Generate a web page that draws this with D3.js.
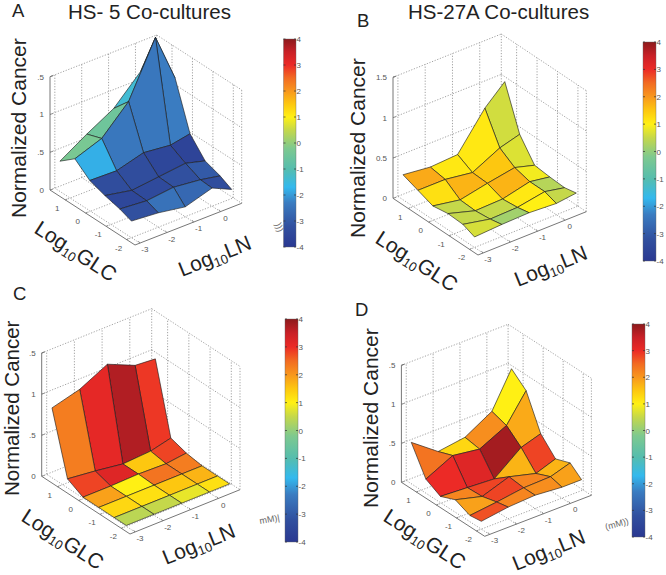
<!DOCTYPE html>
<html>
<head>
<meta charset="utf-8">
<script src="https://cdn.jsdelivr.net/npm/d3@7"></script>
<style>
html,body{margin:0;padding:0;background:#fff;}
svg{display:block;}
text{font-family:"Liberation Sans",Arial,sans-serif;}
</style>
</head>
<body>
<svg id="chart" width="666" height="575"></svg>
<script>
// ---- data ----
const lnValues  = [-3, -2, -1, 0, 0.73];
const glcValues = [-2, -1.43, -0.70, 0.04, 0.77, 1.50];
const lnTicks = [-3, -2, -1, 0];
const glcTicks = [-2, -1, 0, 1];
const zTicks = [0, 0.5, 1, 1.5];
const colorTicks = [-4, -3, -2, -1, 0, 1, 2, 3, 4];

// heights: row = GLC index, column = LN index
const heightA = [
 [.22,.19,.13,.24,.12],
 [.28,.25,.29,.25,.20],
 [.33,.26,.30,.34,.27],
 [.40,.39,.49,.45,.50],
 [.56,.69,1.04,1.75,1.11],
 [.40,.62,.82,1.17,.87]];
const heightB = [
 [.13,.15,.16,.14,.17],
 [.19,.12,.13,.19,.14],
 [.20,.10,.11,.19,.15],
 [.17,.11,.18,.24,.17],
 [.24,.24,.19,.36,.43],
 [.31,.27,.29,.73,.96]];
const heightC = [
 [.01,.01,.01,.01,.01],
 [.01,.01,.01,.01,.01],
 [.01,.01,.01,.01,.01],
 [.01,.01,.02,.01,.04],
 [.11,.07,.02,.04,.10],
 [.85,.94,1.11,.96,.94]];
const heightD = [
 [.10,.15,.17,.14,.14],
 [.08,.12,.17,.18,.26],
 [.16,.07,.19,.10,.19],
 [.08,.06,.04,.31,.39],
 [.18,.35,.30,.47,.82],
 [.53,.28,.33,.53,.98]];

// cell colour values (colour-bar units): row = GLC cell, column = LN cell
const shadeA = [
 [-3.2,-2.5,-2.7,-3.3],
 [-3.5,-3.4,-3.2,-3.0],
 [-3.3,-3.3,-3.5,-3.6],
 [-1.8,-2.4,-2.4,-2.3],
 [-0.3,-0.5,-1.4,-2.2]];
const shadeB = [
 [.65,.15,1.0,.5],
 [.5,.5,1.1,.35],
 [.5,1.1,1.7,.9],
 [1.2,1.7,1.5,.7],
 [1.8,1.1,1.1,.6]];
const shadeC = [
 [.4,.5,.8,1.2],
 [1.3,1.2,1.5,1.7],
 [1.9,1.0,2.4,2.3],
 [2.8,3.2,1.5,2.8],
 [2.3,3.1,3.7,2.9]];
const shadeD = [
 [2.7,2.2,2.1,1.9],
 [1.9,2.8,2.2,1.7],
 [2.2,2.8,1.7,2.8],
 [3.0,3.2,3.8,1.8],
 [2.4,1.3,2.1,1.0]];

const colorStops = [-4,-3.2,-2.3,-1.7,-1,-.2,.5,1,1.5,2,2.5,3,3.5,4];
const colorRamp = ["#2a3891","#31509f","#3a7cc1","#33b9ee","#55bdae","#7ec98f","#c5d84a","#fff014","#fdc710","#f8971d","#f26b22","#ec2a26","#c92027","#8c1a1c"];

const zLabelsA = [".5","1",".5","0"];
const zLabelsB = ["1.5","1","0.5","0"];
const zLabelsC = [".5","1",".5","0"];
const zLabelsD = [".5","1",".5","0"];

// ---- layout of the four panels ----
const panels = [
 {letter:"A", lx:12, ly:17, title:"HS- 5 Co-cultures", tx:68, ty:18.5, h:heightA, s:shadeA, zl:zLabelsA,
  o:[135,245], u:[106.7,-41.7], v:[-85,-55], zh:113.3,
  bar:[283.5,39,12.5,208], glc:[33,232], ln:[182,277], yl:[26,218], yf:21, note:")))", nx:275, ny:224, nr:70},
 {letter:"B", lx:357, ly:27, title:"HS-27A Co-cultures", tx:408, ty:18.5, h:heightB, s:shadeB, zl:zLabelsB,
  o:[478,255], u:[108.3,-43.3], v:[-85,-56.7], zh:121,
  bar:[643,42,13,219], glc:[374,242], ln:[518,287], yl:[365,238], yf:21, note:"", nx:0, ny:0, nr:0},
 {letter:"C", lx:13, ly:300, title:"", tx:0, ty:0, h:heightC, s:shadeC, zl:zLabelsC,
  o:[130,534], u:[110,-44.3], v:[-88.3,-57.7], zh:123.3,
  bar:[285,319,13,223], glc:[20,520], ln:[166,565], yl:[18.5,496], yf:20.5, note:"mM)|", nx:260, ny:524, nr:-10},
 {letter:"D", lx:355, ly:316, title:"", tx:0, ty:0, h:heightD, s:shadeD, zl:zLabelsD,
  o:[484.7,536.3], u:[106.7,-41], v:[-83.3,-54], zh:117,
  bar:[632,324,13,213], glc:[382,520], ln:[516,571], yl:[378,508], yf:21, note:"(mM))", nx:606, ny:530, nr:-15}
];

const svg = d3.select("#chart");
const color = d3.scaleLinear().domain(colorStops).range(colorRamp).clamp(true);
const xScale = d3.scaleLinear().domain([-3.18, 0.79]).range([0, 1]);
const yScale = d3.scaleLinear().domain([-2.41, 1.75]).range([0, 1]);
const zNorm  = d3.scaleLinear().domain([0, 1.5]).range([0, 1]);
const gridC = "#8a8a8a", axisC = "#777", labelC = "#555";

const defs = svg.append("defs");
const grad = defs.append("linearGradient").attr("id","cb").attr("x1",0).attr("x2",0).attr("y1",1).attr("y2",0);
grad.selectAll("stop").data(colorStops).join("stop")
  .attr("offset", d => (d + 4) / 8).attr("stop-color", d => color(d));

panels.forEach(p => {
  const g = svg.append("g");
  const proj = (ln, glc, z) => {
    const a = xScale(ln), b = yScale(glc), c = zNorm(z);
    return [p.o[0] + p.u[0]*a + p.v[0]*b, p.o[1] + p.u[1]*a + p.v[1]*b - p.zh*c];
  };
  const lnMax = xScale.domain()[1], lnMin = xScale.domain()[0];
  const glcMax = yScale.domain()[1], glcMin = yScale.domain()[0];
  const zMax = 1.5;
  const seg = (a, b, col, dash, w) => g.append("line")
    .attr("x1",a[0]).attr("y1",a[1]).attr("x2",b[0]).attr("y2",b[1])
    .attr("stroke",col).attr("stroke-width",w||0.8).attr("stroke-dasharray",dash||null);
  const dot = "1.2,1.6";

  // dotted grid on the floor and the two back walls
  lnTicks.forEach(t => {
    seg(proj(t,glcMin,0), proj(t,glcMax,0), gridC, dot);
    seg(proj(t,glcMax,0), proj(t,glcMax,zMax), gridC, dot);
  });
  glcTicks.forEach(t => {
    seg(proj(lnMin,t,0), proj(lnMax,t,0), gridC, dot);
    seg(proj(lnMax,t,0), proj(lnMax,t,zMax), gridC, dot);
  });
  zTicks.forEach(t => {
    seg(proj(lnMin,glcMax,t), proj(lnMax,glcMax,t), gridC, dot);
    seg(proj(lnMax,glcMax,t), proj(lnMax,glcMin,t), gridC, dot);
  });
  seg(proj(lnMax,glcMax,0), proj(lnMax,glcMax,zMax), gridC, dot);
  seg(proj(lnMax,glcMin,0), proj(lnMax,glcMin,zMax), gridC, dot);

  // solid axes
  seg(proj(lnMin,glcMin,0), proj(lnMin,glcMax,0), axisC, null, 1);
  seg(proj(lnMin,glcMin,0), proj(lnMax,glcMin,0), axisC, null, 1);
  seg(proj(lnMin,glcMax,0), proj(lnMin,glcMax,zMax), axisC, null, 1);
  seg(proj(lnMin,glcMax,zMax), proj(lnMin + .1,glcMax,zMax), axisC, null, 1);

  // ticks and tick labels
  const tickText = (pt, s, anchor) => g.append("text")
    .attr("x",pt[0]).attr("y",pt[1]).attr("font-size",8).attr("fill",labelC)
    .attr("text-anchor",anchor||"middle").text(s);
  lnTicks.forEach(t => {
    const q = proj(t,glcMin,0);
    seg(q, [q[0]-1.5,q[1]-2], axisC, null, .8);
    tickText([q[0]+5,q[1]+9], t);
  });
  glcTicks.forEach(t => {
    const q = proj(lnMin,t,0);
    seg(q, [q[0]+2,q[1]-1], axisC, null, .8);
    tickText([q[0]-8,q[1]+11], t);
  });
  zTicks.forEach((t,k) => {
    const q = proj(lnMin,glcMax,t);
    seg(q, [q[0]+3,q[1]-1], axisC, null, .8);
    tickText([q[0]-6,q[1]+3], p.zl[zTicks.length-1-k], "end");
  });

  // surface: back cells first
  const cells = [];
  p.s.forEach((row,i) => row.forEach((val,j) => cells.push({i,j,val})));
  cells.sort((a,b) => (b.i + b.j) - (a.i + a.j));
  const line = d3.line();
  g.append("g").selectAll("path").data(cells).join("path")
    .attr("d", c => line([
      proj(lnValues[c.j],   glcValues[c.i],   p.h[c.i][c.j]),
      proj(lnValues[c.j+1], glcValues[c.i],   p.h[c.i][c.j+1]),
      proj(lnValues[c.j+1], glcValues[c.i+1], p.h[c.i+1][c.j+1]),
      proj(lnValues[c.j],   glcValues[c.i+1], p.h[c.i+1][c.j])
    ]) + "Z")
    .attr("fill", c => color(c.val))
    .attr("stroke", "#1c1c1c").attr("stroke-opacity", .7).attr("stroke-width", .9)
    .attr("stroke-linejoin","round");

  // colour bar
  const [bx,by,bw,bh] = p.bar;
  const cb = d3.scaleLinear().domain([-4,4]).range([by+bh,by]);
  g.append("rect").attr("x",bx).attr("y",by).attr("width",bw).attr("height",bh)
    .attr("fill","url(#cb)").attr("stroke","#666").attr("stroke-width",.4);
  colorTicks.forEach(t => {
    seg([bx,cb(t)],[bx+2,cb(t)],"#333",null,.7);
    seg([bx+bw-2,cb(t)],[bx+bw,cb(t)],"#333",null,.7);
    g.append("text").attr("x",bx+bw+.5).attr("y",cb(t)+3).attr("font-size",8)
      .attr("fill",labelC).text(t);
  });

  // text
  g.append("text").attr("x",p.lx).attr("y",p.ly).attr("font-size",18.5).attr("fill","#222").text(p.letter);
  if (p.title) g.append("text").attr("x",p.tx).attr("y",p.ty).attr("font-size",20.5).attr("fill","#222").text(p.title);
  g.append("text").attr("transform",`translate(${p.yl[0]},${p.yl[1]}) rotate(-90)`)
    .attr("font-size",p.yf).attr("fill","#222").text("Normalized Cancer");
  const axisLabel = (pos, rot, name) => {
    const t = g.append("text").attr("transform",`translate(${pos[0]},${pos[1]}) rotate(${rot})`)
      .attr("font-size",21).attr("fill","#222");
    t.append("tspan").text("Log");
    t.append("tspan").attr("font-size",13).attr("dy",4).text("10");
    t.append("tspan").attr("dy",-4).text(name);
  };
  axisLabel(p.glc, 33, "GLC");
  axisLabel(p.ln, -22, "LN");
  if (p.note) g.append("text").attr("transform",`translate(${p.nx},${p.ny}) rotate(${p.nr})`)
    .attr("font-size",9).attr("fill","#666").text(p.note);
});
</script>
</body>
</html>
